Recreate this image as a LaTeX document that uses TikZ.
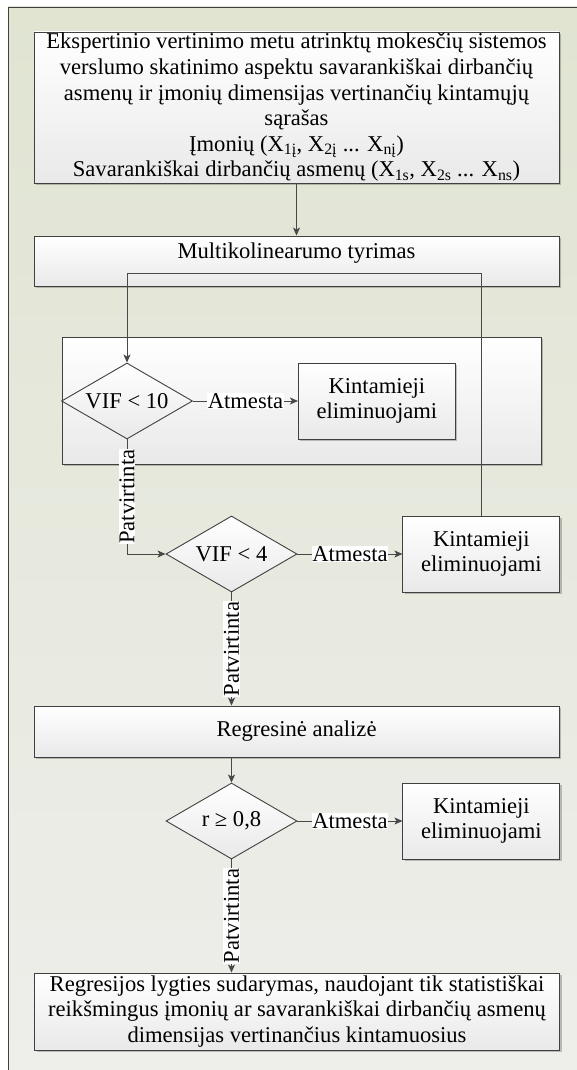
\documentclass[tikz,border=0pt]{standalone}
\usepackage{fontspec}
\setmainfont{Liberation Serif}
\usetikzlibrary{shapes.geometric,arrows.meta,positioning,shadows}
\definecolor{bgtop}{RGB}{224,228,209}
\definecolor{bgbot}{RGB}{238,238,235}
\definecolor{boxbot}{RGB}{233,233,233}
\definecolor{edge}{RGB}{64,64,64}
\definecolor{wire}{RGB}{72,72,72}
\newcommand{\diagfont}{\fontsize{22.6pt}{25.6pt}\selectfont}
\tikzstyle{block} = [draw=edge,line width=0.9pt,top color=white,bottom color=boxbot,align=center,inner sep=1pt,font=\diagfont,drop shadow={shadow xshift=2pt,shadow yshift=-2pt,fill=black,opacity=0.22}]
\tikzstyle{elim} = [block,minimum width=157pt,minimum height=76pt]
\tikzstyle{test} = [diamond,draw=edge,line width=0.9pt,top color=white,bottom color=boxbot,shape aspect=1.72,inner sep=0pt,minimum width=131pt,minimum height=76pt,font=\diagfont]
\tikzstyle{flow} = [-{Stealth[length=8pt,width=7pt,inset=2pt]},draw=wire,line width=0.9pt]
\tikzstyle{verdict} = [fill=white,inner sep=0.5pt,font=\diagfont]

\begin{document}
\begin{tikzpicture}[x=1pt,y=-1pt,node distance=105pt]
      \useasboundingbox (0,0) rectangle (576,1070);
      \shade[top color=bgtop,bottom color=bgbot,draw=edge,line width=0.9pt] (8,7) rectangle (584,1078);
      \node[block,minimum width=525pt,minimum height=151pt] (list) at (296.5,107.5) {Ekspertinio vertinimo metu atrinktų mokesčių sistemos\\
        verslumo skatinimo aspektu savarankiškai dirbančių\\
        asmenų ir įmonių dimensijas vertinančių kintamųjų\\
        sąrašas\\
        Įmonių (X\textsubscript{1į}, X\textsubscript{2į} ... X\textsubscript{nį})\\
        Savarankiškai dirbančių asmenų (X\textsubscript{1s}, X\textsubscript{2s} ... X\textsubscript{ns})};
      \node[block,minimum width=525pt,minimum height=50pt,text height=15pt,text depth=20pt] (multi) at (296.5,261) {Multikolinearumo tyrimas};
      \node[block,minimum width=479pt,minimum height=127pt] (group) at (301.5,400.5) {};
      \node[test] (vif10) at (127,401) {VIF < 10};
      \node[elim,right=of vif10] (elim10) {Kintamieji\\eliminuojami};
      \node[test] (vif4) at (231.5,554) {VIF < 4};
      \node[elim,right=of vif4] (elim4) {Kintamieji\\eliminuojami};
      \node[block,minimum width=525pt,minimum height=51pt] (regr) at (296.5,731.5) {Regresinė analizė};
      \node[test] (corr) at (231.5,821) {r ≥ 0,8};
      \node[elim,right=of corr] (elimr) {Kintamieji\\eliminuojami};
      \node[block,minimum width=525pt,minimum height=77pt] (eq) at (297,1011.5) {Regresijos lygties sudarymas, naudojant tik statistiškai\\
        reikšmingus įmonių ar savarankiškai dirbančių asmenų\\
        dimensijas vertinančius kintamuosius};
      \coordinate (back) at (0,273);
      \draw[flow] (list) -- (multi);
      \draw[flow] (elim4.north) -- (elim4.north |- back) -| (vif10.north);
      \draw[flow] (vif10) -- (elim10) node[verdict,midway] (no10) {Atmesta};
      \draw[flow] (vif10.south) |- (vif4.west) node[verdict,pos=0.25,rotate=90] (yes10) {Patvirtinta};
      \draw[flow] (vif4) -- (elim4) node[verdict,midway] (no4) {Atmesta};
      \draw[flow] (vif4.south) -- (vif4.south |- regr.north) node[verdict,midway,rotate=90] (yes4) {Patvirtinta};
      \draw[flow] (corr.north |- regr.south) -- (corr.north);
      \draw[flow] (corr) -- (elimr) node[verdict,midway] (nor) {Atmesta};
      \draw[flow] (corr.south) -- (corr.south |- eq.north) node[verdict,midway,rotate=90] (yesr) {Patvirtinta};
    \end{tikzpicture}
\end{document}
